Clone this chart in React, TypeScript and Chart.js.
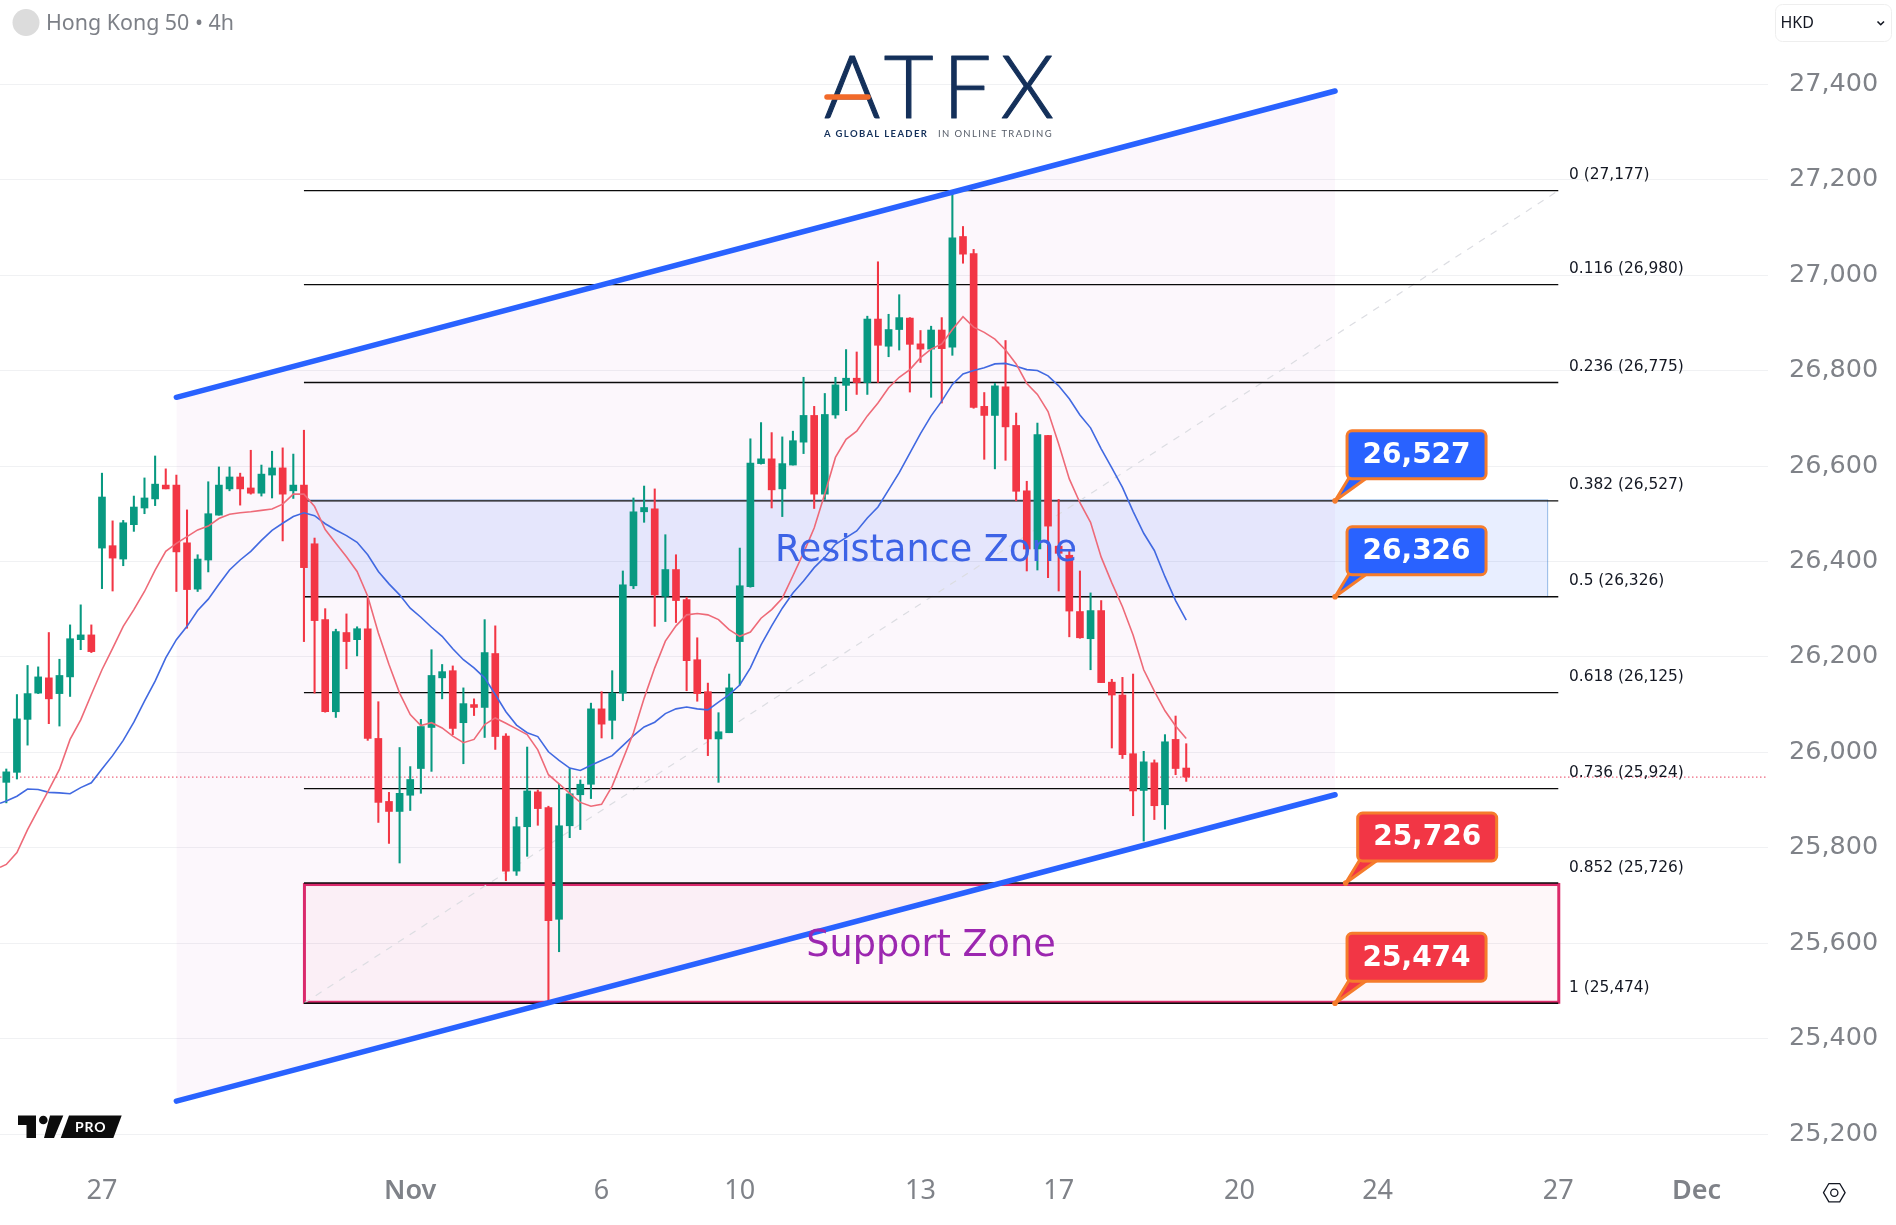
import React, { useEffect, useRef } from "react";
import { Chart, registerables } from "chart.js";

Chart.register(...registerables);

const opens = [25937,25958,26069,26124,26156,26123,26158,26236,26246,26428,26433,26405,26477,26512,26531,26560,26560,26439,26342,26403,26497,26552,26577,26554,26543,26581,26596,26548,26560,26437,26278,26085,26251,26236,26259,26029,25897,25876,25910,25966,26052,26156,26171,26062,26100,26094,26207,26034,25751,25844,25917,25884,25650,25846,25911,25933,26091,26067,26124,26349,26504,26510,26327,26383,26320,26194,26127,26028,26041,26232,26347,26605,26615,26552,26602,26650,26706,26541,26707,26769,26784,26775,26908,26851,26886,26910,26856,26845,26885,26849,27081,27045,26725,26706,26766,26685,26548,26426,26664,26432,26413,26295,26238,26297,26147,26120,25997,25920,25978,25890,26027,25967];
const closes = [25959,26070,26123,26158,26112,26161,26238,26246,26211,26535,26407,26481,26514,26533,26562,26552,26420,26341,26405,26500,26560,26577,26552,26543,26583,26596,26541,26560,26387,26276,26085,26253,26232,26259,26029,25895,25876,25914,25943,26054,26161,26169,26050,26102,26094,26209,26033,25751,25844,25919,25882,25647,25846,25913,25933,26091,26059,26124,26351,26504,26513,26330,26383,26318,26192,26123,26028,26043,26135,26349,26606,26615,26550,26605,26653,26706,26541,26708,26770,26784,26775,26908,26853,26886,26911,26855,26845,26885,26846,27078,27044,26723,26706,26768,26682,26547,26426,26666,26474,26417,26296,26240,26297,26146,26120,25995,25919,25980,25888,26022,25966,25948];
const highs = [25965,26121,26182,26179,26251,26195,26267,26309,26267,26585,26485,26486,26537,26575,26621,26594,26581,26508,26414,26567,26598,26598,26585,26633,26602,26631,26638,26625,26675,26449,26301,26258,26290,26263,26324,26106,25916,26010,25970,26069,26215,26184,26181,26135,26112,26278,26265,26039,25864,26011,25921,25887,25933,25966,25942,26103,26127,26171,26380,26533,26558,26552,26456,26414,26325,26240,26145,26083,26164,26428,26657,26691,26670,26661,26673,26786,26725,26752,26786,26844,26839,26914,27028,26918,26959,26911,26884,26893,26911,27177,27102,27054,26754,26773,26863,26711,26568,26690,26664,26530,26423,26380,26334,26318,26153,26157,26164,26002,25984,26037,26076,26018];
const lows = [25894,25944,26015,26123,26060,26055,26117,26215,26209,26343,26338,26391,26463,26500,26517,26552,26337,26260,26337,26378,26497,26548,26518,26541,26537,26533,26443,26532,26232,26124,26084,26073,26175,26202,26025,25853,25809,25768,25878,25914,25960,26112,26037,25976,26077,26031,26006,25731,25742,25782,25847,25474,25582,25821,25838,25903,26030,26028,26108,26343,26482,26264,26274,26272,26129,26107,25993,25937,26041,26141,26346,26604,26512,26494,26602,26626,26511,26530,26700,26716,26750,26750,26775,26829,26843,26755,26817,26744,26732,26832,27025,26721,26614,26594,26612,26527,26380,26382,26366,26338,26242,26239,26173,26146,26009,25987,25867,25814,25859,25839,25953,25939];

const fastAverage = [25765,25790,25838,25880,25921,25964,26027,26068,26121,26173,26218,26264,26299,26337,26382,26421,26438,26452,26466,26474,26490,26499,26502,26504,26507,26510,26520,26541,26541,26515,26467,26438,26410,26379,26327,26250,26184,26124,26079,26056,26062,26051,26034,26020,26027,26058,26072,26061,26049,26037,26005,25953,25934,25914,25895,25887,25891,25929,25985,26041,26113,26177,26233,26265,26288,26291,26288,26278,26257,26243,26252,26281,26299,26323,26370,26418,26470,26542,26618,26656,26673,26705,26732,26764,26786,26802,26827,26845,26856,26886,26913,26891,26880,26866,26843,26814,26773,26750,26714,26646,26573,26523,26482,26409,26355,26305,26246,26173,26128,26087,26055,26029];
const slowAverage = [25898,25908,25923,25922,25916,25915,25913,25926,25936,25965,25993,26025,26063,26107,26149,26198,26236,26264,26297,26321,26352,26382,26403,26421,26444,26465,26480,26494,26502,26496,26479,26466,26454,26440,26414,26379,26353,26330,26302,26283,26262,26243,26217,26194,26177,26156,26121,26085,26057,26041,26033,26001,25983,25967,25962,25973,25983,25993,26014,26035,26053,26063,26081,26091,26095,26091,26089,26105,26121,26141,26177,26225,26265,26302,26334,26359,26387,26409,26436,26450,26464,26491,26514,26550,26586,26627,26668,26705,26736,26771,26793,26800,26806,26814,26815,26809,26802,26800,26789,26768,26741,26707,26680,26636,26596,26555,26505,26459,26423,26368,26318,26277];
const fastAtLeftEdge = 25759;
const slowAtLeftEdge = 25893;

const priceTicks = [25200,25400,25600,25800,26000,26200,26400,26600,26800,27000,27200,27400];
const timeTickBars = [9,38,56,69,86,99,116,129,146,159];
const timeTickLabels = ["27","Nov","6","10","13","17","20","24","27","Dec"];
const monthTickLabels = ["Nov","Dec"];

const fibRatios = ["0","0.116","0.236","0.382","0.5","0.618","0.736","0.852","1"];
const fibLevels = [27177,26980,26775,26527,26326,26125,25924,25726,25474];
const fibBars = [28,146];
const channelBars = [16,125];
const channelUpper = [26744,27386];
const channelLower = [25269,25911];
const lastPrice = 25948;
const resistanceZone = [26326,26527];
const resistanceBars = [28,145];
const supportZone = [25474,25726];
const supportBars = [28,146];
const calloutPrices = [26527,26326,25726,25474];
const calloutBars = [125,125,126,125];
const calloutKinds = ["up","up","down","down"];

const BLUE = "#2962ff";
const RED = "#f23645";
const GREEN = "#089981";
const fmt = (v: number) => v.toLocaleString("en-US");

function roundRect(ctx: CanvasRenderingContext2D, x: number, y: number, w: number, h: number, r: number) {
  ctx.beginPath();
  ctx.roundRect(x, y, w, h, r);
}

const drawings = {
  id: "drawings",
  beforeDatasetsDraw(chart: any) {
    const { ctx, scales: { x, y } } = chart;
    ctx.save();
    const rx0 = x.getPixelForValue(resistanceBars[0]);
    const rx1 = x.getPixelForValue(resistanceBars[1]);
    const ry0 = y.getPixelForValue(resistanceZone[1]);
    const ry1 = y.getPixelForValue(resistanceZone[0]);
    ctx.fillStyle = "rgba(41,98,255,0.11)";
    ctx.fillRect(rx0, ry0, rx1 - rx0, ry1 - ry0);
    ctx.strokeStyle = "rgba(33,110,200,0.45)";
    ctx.lineWidth = 1;
    ctx.strokeRect(rx0, ry0 - 1, rx1 - rx0, ry1 - ry0 + 1);
    const sx0 = x.getPixelForValue(supportBars[0]);
    const sx1 = x.getPixelForValue(supportBars[1]);
    const sy0 = y.getPixelForValue(supportZone[1]);
    const sy1 = y.getPixelForValue(supportZone[0]);
    ctx.fillStyle = "rgba(233,30,99,0.035)";
    ctx.fillRect(sx0, sy0, sx1 - sx0, sy1 - sy0);
    ctx.strokeStyle = "#dc2a6a";
    ctx.lineWidth = 3;
    ctx.strokeRect(sx0 + 0.5, sy0 + 1.5, sx1 - sx0, sy1 - sy0 - 2.5);
    ctx.restore();
  },
  afterDatasetsDraw(chart: any) {
    const { ctx, scales: { x, y } } = chart;
    ctx.save();
    ctx.textBaseline = "middle";

    // zone captions
    ctx.textAlign = "center";
    ctx.font = '36.6px "DejaVu Sans"';
    ctx.fillStyle = "#3d63e6";
    ctx.fillText("Resistance Zone", 926, 551.5);
    ctx.font = '36.6px "DejaVu Sans"';
    ctx.fillStyle = "#9c27b0";
    ctx.fillText("Support Zone", 931, 946.5);

    // fib labels
    ctx.textAlign = "left";
    ctx.font = '15.4px "DejaVu Sans"';
    ctx.fillStyle = "#131722";
    fibLevels.forEach((lv, i) => {
      ctx.fillText(`${fibRatios[i]} (${fmt(lv)})`, 1569, y.getPixelForValue(lv) - 15.5);
    });

    // price callouts
    calloutPrices.forEach((p, i) => {
      const tx = x.getPixelForValue(calloutBars[i]);
      const ty = y.getPixelForValue(p);
      const fill = calloutKinds[i] === "up" ? BLUE : RED;
      const bx = tx + 12;
      const by = ty - 70;
      const bw = 139;
      const bh = 48;
      ctx.lineJoin = "round";
      ctx.lineWidth = 3;
      ctx.strokeStyle = "#f57c2c";
      ctx.fillStyle = fill;
      ctx.beginPath();
      ctx.moveTo(tx, ty);
      ctx.lineTo(bx + 2, by + bh - 1);
      ctx.lineTo(bx + 20, by + bh - 1);
      ctx.closePath();
      ctx.fill();
      ctx.stroke();
      roundRect(ctx, bx, by, bw, bh, 5);
      ctx.fill();
      ctx.stroke();
      ctx.fillStyle = "#f57c2c";
      ctx.beginPath();
      ctx.arc(tx, ty, 2.8, 0, Math.PI * 2);
      ctx.fill();
      ctx.fillStyle = "#ffffff";
      ctx.textAlign = "center";
      ctx.font = 'bold 28px "DejaVu Sans"';
      ctx.fillText(fmt(p), bx + bw / 2, by + bh / 2 + 1);
    });

    // header
    ctx.textAlign = "left";
    ctx.fillStyle = "#dcdcdc";
    ctx.beginPath();
    ctx.arc(26, 22.5, 13.5, 0, Math.PI * 2);
    ctx.fill();
    ctx.fillStyle = "#7d8087";
    ctx.font = '21.4px "Noto Sans"';
    ctx.fillText("Hong Kong 50 \u2022 4h", 46, 23.5);

    // currency box
    ctx.strokeStyle = "#eeeeee";
    ctx.lineWidth = 1;
    roundRect(ctx, 1775.5, 4.5, 116, 37, 7);
    ctx.stroke();
    ctx.fillStyle = "#131722";
    ctx.font = '16px "Noto Sans"';
    ctx.fillText("HKD", 1780.5, 23);
    ctx.strokeStyle = "#131722";
    ctx.lineWidth = 1.6;
    ctx.beginPath();
    ctx.moveTo(1877.5, 21.5);
    ctx.lineTo(1880.7, 24.7);
    ctx.lineTo(1884, 21.5);
    ctx.stroke();

    // logo
    ctx.fillStyle = "#14305a";
    ctx.strokeStyle = "#14305a";
    ctx.lineWidth = 1.1;
    ctx.lineJoin = "round";
    ctx.textBaseline = "alphabetic";
    ctx.font = '300 86px "Lato"';
    (ctx as any).letterSpacing = "9.3px";
    ctx.fillText("ATFX", 824, 118);
    ctx.strokeText("ATFX", 824, 118);
    (ctx as any).letterSpacing = "0px";
    ctx.strokeStyle = "#f26a2a";
    ctx.lineWidth = 5.5;
    ctx.lineCap = "round";
    ctx.beginPath();
    ctx.moveTo(827, 97);
    ctx.lineTo(868, 97);
    ctx.stroke();
    ctx.lineCap = "butt";
    ctx.textBaseline = "middle";
    (ctx as any).letterSpacing = "1.35px";
    ctx.font = 'bold 9.5px "Lato"';
    ctx.fillStyle = "#14305a";
    ctx.fillText("A GLOBAL LEADER", 824, 133.5);
    ctx.font = '9.5px "Lato"';
    ctx.fillStyle = "#555c68";
    ctx.fillText("IN ONLINE TRADING", 938, 133.5);
    (ctx as any).letterSpacing = "0px";

    // platform mark
    ctx.fillStyle = "#0c0c0c";
    ctx.beginPath();
    ctx.moveTo(18, 1115.5); ctx.lineTo(36, 1115.5); ctx.lineTo(36, 1138); ctx.lineTo(26.5, 1138); ctx.lineTo(26.5, 1125); ctx.lineTo(18, 1125);
    ctx.closePath();
    ctx.fill();
    ctx.beginPath();
    ctx.arc(43.3, 1120, 4.3, 0, Math.PI * 2);
    ctx.fill();
    ctx.beginPath();
    ctx.moveTo(50, 1115.5); ctx.lineTo(63.3, 1115.5); ctx.lineTo(54, 1138); ctx.lineTo(44, 1138);
    ctx.closePath();
    ctx.fill();
    ctx.beginPath();
    ctx.moveTo(69, 1115.5); ctx.lineTo(121.7, 1115.5); ctx.lineTo(113.3, 1138); ctx.lineTo(60.7, 1138);
    ctx.closePath();
    ctx.fill();
    ctx.fillStyle = "#ffffff";
    ctx.font = 'bold 14px "Lato"';
    (ctx as any).letterSpacing = "0.8px";
    ctx.fillText("PRO", 75, 1127);
    (ctx as any).letterSpacing = "0px";

    // settings icon
    ctx.strokeStyle = "#131722";
    ctx.lineWidth = 1.3;
    ctx.beginPath();
    const cx = 1834.3, cy = 1192.7, r = 10.8;
    for (let k = 0; k < 6; k++) {
      const a = (Math.PI / 3) * k;
      const px = cx + r * Math.cos(a);
      const py = cy + r * Math.sin(a) * 0.98;
      if (k === 0) ctx.moveTo(px, py); else ctx.lineTo(px, py);
    }
    ctx.closePath();
    ctx.stroke();
    ctx.beginPath();
    ctx.arc(cx, cy, 3.6, 0, Math.PI * 2);
    ctx.stroke();
    ctx.restore();
  },
};

const hLine = (a: number[], v: number) => [{ x: a[0], y: v }, { x: a[1], y: v }];

export default function App() {
  const ref = useRef<HTMLCanvasElement | null>(null);
  useEffect(() => {
    document.body.style.margin = "0";
    document.body.style.background = "#ffffff";
    const xMin = -6.3 / 10.63;
    const xMax = (1768 - 6.3) / 10.63;
    const pxPerUnit = 0.47714;
    const yMax = 25200 + 1134 / pxPerUnit;
    const yMin = 25200 - 32 / pxPerUnit;
    const idx = opens.map((_, i) => i);
    const colors = idx.map((i) => (closes[i] >= opens[i] ? GREEN : RED));
    const line = (data: any[], color: string, width: number, order: number, extra: any = {}) => ({
      type: "line" as const,
      data,
      borderColor: color,
      borderWidth: width,
      pointRadius: 0,
      tension: 0,
      order,
      ...extra,
    });
    const chart = new Chart(ref.current as HTMLCanvasElement, {
      type: "bar",
      data: {
        datasets: [
          {
            type: "bar",
            label: "wicks",
            data: idx.map((i) => ({ x: i, y: [lows[i], highs[i]] })),
            backgroundColor: colors,
            barThickness: 1.4,
            grouped: false,
            order: 6,
          },
          {
            type: "bar",
            label: "bodies",
            data: idx.map((i) => ({ x: i, y: [opens[i], closes[i]] })),
            backgroundColor: colors,
            barThickness: 7,
            grouped: false,
            order: 5,
          },
          line([{ x: xMin, y: fastAtLeftEdge }, ...idx.map((i) => ({ x: i, y: fastAverage[i] }))], "#ee6a78", 1.6, 3),
          line([{ x: xMin, y: slowAtLeftEdge }, ...idx.map((i) => ({ x: i, y: slowAverage[i] }))], "#4169e1", 1.6, 3),
          line([{ x: channelBars[0], y: channelUpper[0] }, { x: channelBars[1], y: channelUpper[1] }], "rgba(0,0,0,0)", 0, 30, { fill: "+1", backgroundColor: "rgba(156,39,176,0.035)" }),
          line([{ x: channelBars[0], y: channelLower[0] }, { x: channelBars[1], y: channelLower[1] }], "rgba(0,0,0,0)", 0, 30),
          line([{ x: fibBars[0], y: fibLevels[8] }, { x: fibBars[1], y: fibLevels[0] }], "#dcdde2", 1.2, 20, { borderDash: [7, 7] }),
          ...fibLevels.map((lv) => line(hLine(fibBars, lv), "#0a0a0a", 1.3, 10)),
          line(hLine([xMin, xMax], lastPrice), "#e8405f", 1, 15, { borderDash: [1.5, 2.5] }),
          line([{ x: channelBars[0], y: channelUpper[0] }, { x: channelBars[1], y: channelUpper[1] }], BLUE, 5.5, 1, { borderCapStyle: "round" }),
          line([{ x: channelBars[0], y: channelLower[0] }, { x: channelBars[1], y: channelLower[1] }], BLUE, 5.5, 1, { borderCapStyle: "round" }),
        ] as any,
      },
      options: {
        responsive: false,
        animation: false,
        devicePixelRatio: 1,
        layout: { padding: 0 },
        plugins: { legend: { display: false }, tooltip: { enabled: false }, title: { display: false } },
        scales: {
          x: {
            type: "linear",
            min: xMin,
            max: xMax,
            offset: false,
            grid: { display: false, drawTicks: false },
            border: { display: false },
            afterBuildTicks: (s: any) => {
              s.ticks = timeTickBars.map((value) => ({ value }));
            },
            afterFit: (s: any) => {
              s.height = 59;
              s.paddingLeft = 0;
              s.paddingRight = 0;
            },
            ticks: {
              autoSkip: false,
              maxRotation: 0,
              padding: 9,
              color: "#7f8288",
              callback: (_v: any, i: number) => timeTickLabels[i],
              font: (c: any) => ({
                family: '"Noto Sans"',
                size: 27,
                weight: monthTickLabels.includes(timeTickLabels[c.index]) ? "600" : "400",
              }),
            },
          },
          y: {
            type: "linear",
            position: "right",
            min: yMin,
            max: yMax,
            grid: { color: "#f0f1f3", lineWidth: 1, drawTicks: false },
            border: { display: false },
            afterBuildTicks: (s: any) => {
              s.ticks = priceTicks.map((value) => ({ value }));
            },
            afterFit: (s: any) => {
              s.width = 128;
              s.paddingTop = 0;
              s.paddingBottom = 0;
            },
            ticks: {
              padding: 21,
              color: "#7f8288",
              callback: (v: any) => fmt(Number(v)),
              font: { family: '"DejaVu Sans"', size: 25.5 },
            },
          },
        },
      } as any,
      plugins: [drawings],
    });
    return () => chart.destroy();
  }, []);
  return <canvas ref={ref} width={1896} height={1225} style={{ display: "block", width: 1896, height: 1225 }} />;
}
